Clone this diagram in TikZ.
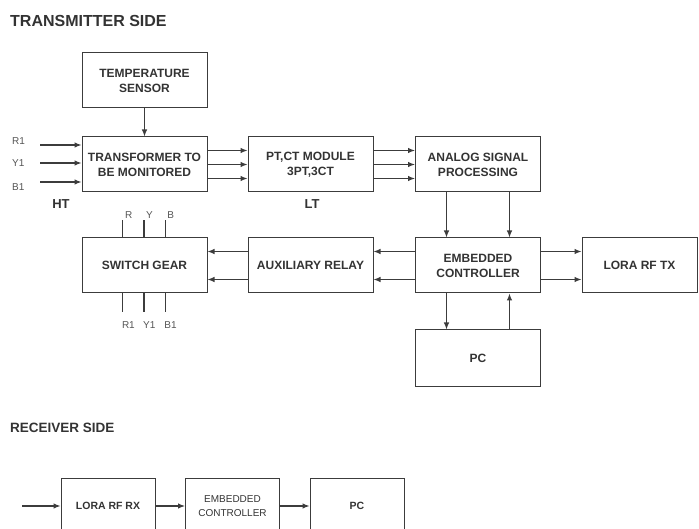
\documentclass[tikz,border=0pt]{standalone}
\usepackage{fontspec}
\setmainfont{Liberation Sans}
\usetikzlibrary{arrows.meta,positioning,calc}
\definecolor{boxgray}{HTML}{3C3C3C}
\definecolor{labelgray}{HTML}{333333}
\definecolor{thingray}{HTML}{555555}
\tikzset{
  block/.style={draw=boxgray,line width=1pt,minimum width=125pt,minimum height=55pt,align=center,inner sep=2pt,text=labelgray,font=\fontsize{12}{15}\selectfont\bfseries},
  rxblock/.style={block,minimum width=94pt,minimum height=56pt,font=\fontsize{10.5}{14}\selectfont\bfseries},
  flow/.style={-{Latex[length=7pt,width=5.5pt]},line width=1.1pt,draw=boxgray},
  wire/.style={line width=1.1pt,draw=boxgray},
  heading/.style={anchor=west,inner sep=0pt,text=labelgray,font=\fontsize{16}{18}\selectfont\bfseries},
  phase/.style={inner sep=0pt,text=thingray,font=\fontsize{10}{11}\selectfont},
  side/.style={inner sep=0pt,text=labelgray,font=\fontsize{13}{15}\selectfont\bfseries},
}

\begin{document}
\begin{tikzpicture}[x=1pt,y=-1pt]
  \clip (0,0) rectangle (699,529);
  \node[heading] (txtitle) at (10,21) {TRANSMITTER SIDE};
  % transmitter side
  \node[block] (temp) at (144.5,80.5) {TEMPERATURE\\SENSOR};
  \node[block] (trafo) at (144.5,164.5) {TRANSFORMER TO\\BE MONITORED};
  \node[block] (ptct) at (310.5,164.5) {PT,CT MODULE\\3PT,3CT};
  \node[block] (asp) at (478,164.5) {ANALOG SIGNAL\\PROCESSING};
  \node[block] (sg) at (144.5,265.5) {SWITCH GEAR};
  \node[block] (relay) at (310.5,265.5) {AUXILIARY RELAY};
  \node[block] (ec) at (478,265.5) {EMBEDDED\\CONTROLLER};
  \node[block,minimum width=115pt] (loratx) at (639.5,265.5) {LORA RF TX};
  \node[block,minimum height=56pt] (pc) at (478,358) {PC};
  \node[side] (ht) at (61,204) {HT};
  \node[side] (lt) at (312,204) {LT};

  \draw[flow] (temp) -- (trafo);
  \foreach \ph/\yy/\ly in {R1/145/141,Y1/163/163,B1/182/187}{
    \coordinate (in\ph) at (40,\yy);
    \node[phase,anchor=west] (lab\ph) at (12,\ly) {\ph};
    \draw[flow] (in\ph) -- (in\ph -| trafo.west);
  }
  \foreach \f in {.25,.5,.75}{
    \draw[flow] ($(trafo.north east)!\f!(trafo.south east)$) -- ($(ptct.north west)!\f!(ptct.south west)$);
    \draw[flow] ($(ptct.north east)!\f!(ptct.south east)$) -- ($(asp.north west)!\f!(asp.south west)$);
  }
  \foreach \f in {.25,.75}{
    \draw[flow] ($(asp.south west)!\f!(asp.south east)$) -- ($(ec.north west)!\f!(ec.north east)$);
    \draw[flow] ($(ec.north west)!\f!(ec.south west)$) -- ($(relay.north east)!\f!(relay.south east)$);
    \draw[flow] ($(relay.north west)!\f!(relay.south west)$) -- ($(sg.north east)!\f!(sg.south east)$);
    \draw[flow] ($(ec.north east)!\f!(ec.south east)$) -- ($(loratx.north west)!\f!(loratx.south west)$);
  }
  \draw[flow] ($(ec.south west)!.25!(ec.south east)$) -- ($(pc.north west)!.25!(pc.north east)$);
  \draw[flow] ($(pc.north west)!.75!(pc.north east)$) -- ($(ec.south west)!.75!(ec.south east)$);

  % switch gear phases
  \foreach \ph/\f in {R/.328,Y/.496,B/.664}{
    \coordinate (top\ph) at ($(sg.north west)!\f!(sg.north east)+(0,-17)$);
    \coordinate (bot\ph) at ($(sg.south west)!\f!(sg.south east)+(0,19)$);
    \draw[wire] ($(sg.north west)!\f!(sg.north east)$) -- (top\ph);
    \draw[wire] ($(sg.south west)!\f!(sg.south east)$) -- (bot\ph);
    \node[phase,anchor=south west] (lab\ph) at ($(top\ph)+(2,-2)$) {\ph};
    \node[phase,anchor=north west] (lab\ph1) at ($(bot\ph)+(-1,9)$) {\ph1};
  }

  % receiver side
  \node[heading,font=\fontsize{13.5}{15}\selectfont\bfseries] (rxtitle) at (10,428) {RECEIVER SIDE};
  \node[rxblock] (lorarx) at (108,506) {LORA RF RX};
  \node[rxblock,font=\fontsize{10}{14}\selectfont] (rxec) at (232.5,506) {EMBEDDED\\CONTROLLER};
  \node[rxblock] (rxpc) at (357,506) {PC};
  \coordinate (rxin) at (22,506);
  \draw[flow] (rxin) -- (lorarx);
  \draw[flow] (lorarx) -- (rxec);
  \draw[flow] (rxec) -- (rxpc);
\end{tikzpicture}
\end{document}
